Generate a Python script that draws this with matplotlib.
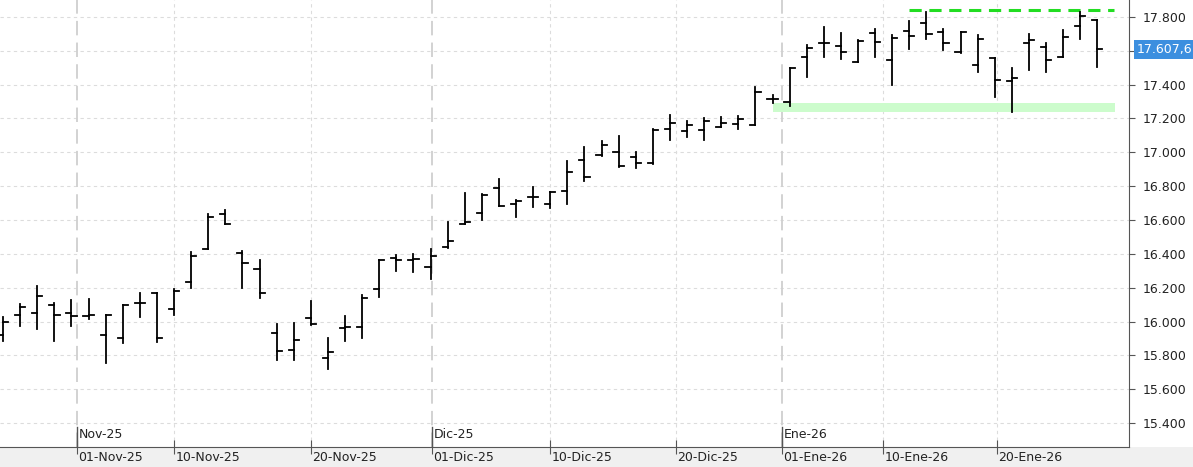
import matplotlib
matplotlib.use('Agg')
import matplotlib.pyplot as plt
from matplotlib.patches import Rectangle

# OHLC data (one bar per trading day)
opens = [15921, 16037, 16049, 16098, 16049, 16033, 15919, 15901, 16108, 16167,
         16073, 16232, 16427, 16634, 16406, 16309, 15931, 15830, 16019, 15783,
         15962, 15966, 16191, 16376, 16362, 16321, 16439, 16575, 16640, 16788,
         16693, 16735, 16693, 16770, 16953, 16987, 17002, 16973, 16936, 17136,
         17125, 17133, 17148, 17168, 17164, 17315, 17295, 17565, 17648, 17628,
         17536, 17703, 17543, 17715, 17762, 17709, 17595, 17514, 17555, 17423,
         17644, 17620, 17565, 17746, 17782]
highs = [16029, 16102, 16211, 16108, 16128, 16134, 16037, 16096, 16167, 16167,
         16195, 16411, 16636, 16658, 16415, 16364, 15986, 15994, 16122, 15901,
         16033, 16157, 16364, 16394, 16400, 16429, 16589, 16758, 16754, 16843,
         16719, 16796, 16764, 16949, 17032, 17066, 17095, 17002, 17136, 17221,
         17184, 17201, 17207, 17215, 17387, 17339, 17496, 17634, 17742, 17703,
         17664, 17727, 17693, 17778, 17831, 17727, 17709, 17693, 17559, 17496,
         17699, 17648, 17723, 17831, 17782]
lows = [15887, 15976, 15958, 15887, 15976, 16014, 15757, 15872, 16025, 15878,
        16041, 16201, 16427, 16575, 16201, 16138, 15771, 15771, 15978, 15722,
        15887, 15905, 16148, 16301, 16295, 16252, 16433, 16575, 16603, 16681,
        16620, 16679, 16674, 16697, 16833, 16977, 16912, 16906, 16932, 17075,
        17093, 17075, 17148, 17140, 17164, 17289, 17276, 17443, 17561, 17553,
        17532, 17565, 17398, 17610, 17671, 17605, 17585, 17476, 17329, 17240,
        17486, 17476, 17565, 17671, 17506]
closes = [15996, 16084, 16149, 16037, 16031, 16037, 16037, 16096, 16112, 15901,
          16179, 16386, 16616, 16575, 16345, 16171, 15824, 15889, 15984, 15819,
          15966, 16138, 16362, 16362, 16368, 16386, 16475, 16587, 16746, 16685,
          16711, 16735, 16764, 16882, 16853, 17042, 16920, 16936, 17133, 17172,
          17160, 17184, 17172, 17196, 17355, 17315, 17496, 17614, 17648, 17595,
          17660, 17650, 17673, 17687, 17699, 17644, 17709, 17668, 17425, 17437,
          17664, 17543, 17679, 17805, 17608]

month_labels = ['Nov-25', 'Dic-25', 'Ene-26']
month_pos = [4.33, 25.09, 45.56]
day_labels = ['01-Nov-25', '10-Nov-25', '20-Nov-25', '01-Dic-25', '10-Dic-25',
              '20-Dic-25', '01-Ene-26', '10-Ene-26', '20-Ene-26']
day_pos = [4.33, 10.0, 18.0, 25.09, 32.0, 39.36, 45.56, 51.46, 58.13]

resistance = 17841
support = (17239, 17291)
last_price = 17607.6

fig = plt.figure(figsize=(11.93, 4.67), dpi=100)
fig.patch.set_facecolor('white')
# grey strip under the plot
fig.patches.append(Rectangle((0, 0), 1, 20 / 467, transform=fig.transFigure,
                             facecolor='#f0f0f0', edgecolor='none', zorder=-5))
ax = fig.add_axes([0, 20 / 467, 1129 / 1193, 447 / 467])
ax.set_xlim(-0.18, 65.85)
ax.set_ylim(15259, 17900)

# grid
for y in range(15400, 17900, 200):
    ax.axhline(y, color='#dcdcdc', lw=0.8, ls=(0, (3, 3)), zorder=1)
for p in day_pos:
    if p in month_pos:
        ax.axvline(p, color='#cfcfcf', lw=1.3, ls=(0, (8, 4)), zorder=1)
    else:
        ax.axvline(p, color='#dcdcdc', lw=0.8, ls=(0, (3, 3)), zorder=1)

# support band and resistance line
ax.fill_between([45.0, 65.06], support[0], support[1], color='#ccfccc', lw=0, zorder=2)
ax.plot([53.0, 65.0], [resistance, resistance], color='#22dd22', lw=2.2,
        ls=(0, (4, 2.5)), zorder=3)

# OHLC bars
w = 0.3
for i, (o, h, l, c) in enumerate(zip(opens, highs, lows, closes)):
    ax.plot([i, i], [l, h], color='black', lw=1.3, zorder=4)
    ax.plot([i - w, i], [o, o], color='black', lw=1.3, zorder=4)
    ax.plot([i, i + w], [c, c], color='black', lw=1.3, zorder=4)

for s in ['top', 'left']:
    ax.spines[s].set_visible(False)
ax.spines['right'].set_color('#555555')
ax.spines['bottom'].set_color('#555555')
ax.yaxis.tick_right()
yt = list(range(15400, 17900, 200))
ax.set_yticks(yt)
ax.set_yticklabels(['' if v == 17600 else f'{v:,}'.replace(',', '.') for v in yt],
                   fontsize=9, color='#222222')
ax.tick_params(axis='y', length=4, color='#555555', pad=6)

# date axis: ticks crossing the bottom line, labels to the right of each tick
ax.set_xticks(day_pos)
ax.set_xticklabels([])
ax.tick_params(axis='x', length=10, direction='inout', color='#555555')
for p, lab in zip(day_pos, day_labels):
    ax.annotate(lab, xy=(p, 0), xycoords=('data', 'axes fraction'),
                xytext=(1, -3), textcoords='offset points',
                fontsize=9, color='#222222', ha='left', va='top',
                annotation_clip=False, zorder=10)
for p, lab in zip(month_pos, month_labels):
    ax.annotate(lab, xy=(p, 0), xycoords=('data', 'axes fraction'),
                xytext=(1, 4), textcoords='offset points',
                fontsize=9, color='#222222', ha='left', va='bottom')
    ax.plot([p, p], [15259, 15380], color='#555555', lw=1, zorder=5)

# last price marker
ax.text(66.3, last_price, f'{last_price:,.1f}'.replace(',', 'X').replace('.', ',').replace('X', '.'),
        fontsize=9, color='white', va='center', ha='left', clip_on=False,
        bbox=dict(boxstyle='square,pad=0.25', facecolor='#3c8fdf', edgecolor='none'))

fig.savefig('out.png', dpi=100)
